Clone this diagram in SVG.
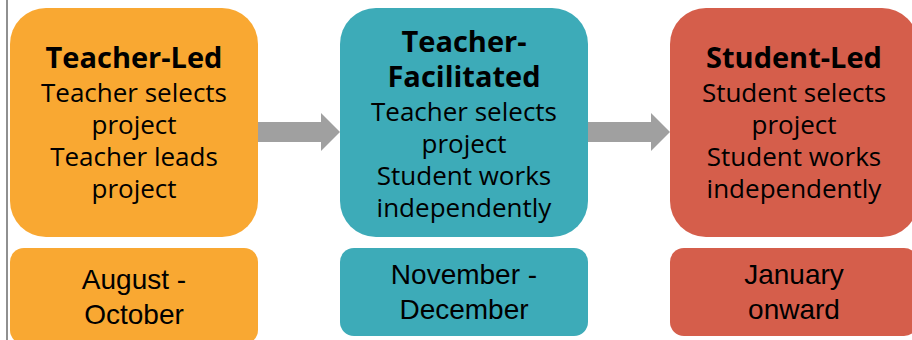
<svg xmlns="http://www.w3.org/2000/svg" width="912" height="340" viewBox="0 0 912 340">
<style>
.h{font-family:"Open Sans","Noto Sans",sans-serif;font-weight:bold;font-size:29px;fill:#000;text-anchor:middle}
.b{font-family:"Open Sans","Noto Sans",sans-serif;font-size:26px;fill:#000;text-anchor:middle}
.d{font-family:"Liberation Sans",Arial,sans-serif;font-size:28px;fill:#000;text-anchor:middle}
.o{fill:#F9A832}.t{fill:#3DABB8}.r{fill:#D55E4B}
.arrow{fill:#A0A0A0}
</style>
<rect x="0" y="0" width="912" height="340" fill="#fff"/>
<line x1="7" y1="0" x2="7" y2="340" stroke="#6b6b6b" stroke-width="1.5"/>
<g id="connectors">
<polygon class="arrow" points="258,122 321,122 321,113 340,132 321,151 321,142 258,142"/>
<polygon class="arrow" points="588,122 651,122 651,113 670,132 651,151 651,142 588,142"/>
</g>
<g id="teacher-led">
<rect class="o" x="10" y="8" width="248" height="229" rx="36"/>
<text class="h" x="134" y="68">Teacher-Led</text>
<text class="b" x="134" y="102">Teacher selects</text>
<text class="b" x="134" y="134">project</text>
<text class="b" x="134" y="166">Teacher leads</text>
<text class="b" x="134" y="198">project</text>
</g>
<g id="teacher-led-date">
<rect class="o" x="10" y="248" width="248" height="96" rx="14"/>
<text class="d" x="134" y="289">August -</text>
<text class="d" x="134" y="324">October</text>
</g>
<g id="teacher-facilitated">
<rect class="t" x="340" y="8" width="248" height="229" rx="36"/>
<text class="h" x="464" y="52">Teacher-</text>
<text class="h" x="464" y="87">Facilitated</text>
<text class="b" x="464" y="121">Teacher selects</text>
<text class="b" x="464" y="153">project</text>
<text class="b" x="464" y="185">Student works</text>
<text class="b" x="464" y="217">independently</text>
</g>
<g id="teacher-facilitated-date">
<rect class="t" x="340" y="248" width="248" height="88" rx="14"/>
<text class="d" x="464" y="284">November -</text>
<text class="d" x="464" y="319">December</text>
</g>
<g id="student-led">
<rect class="r" x="670" y="8" width="248" height="229" rx="36"/>
<text class="h" x="794" y="68">Student-Led</text>
<text class="b" x="794" y="102">Student selects</text>
<text class="b" x="794" y="134">project</text>
<text class="b" x="794" y="166">Student works</text>
<text class="b" x="794" y="198">independently</text>
</g>
<g id="student-led-date">
<rect class="r" x="670" y="248" width="248" height="88" rx="14"/>
<text class="d" x="794" y="284">January</text>
<text class="d" x="794" y="319">onward</text>
</g>
</svg>
